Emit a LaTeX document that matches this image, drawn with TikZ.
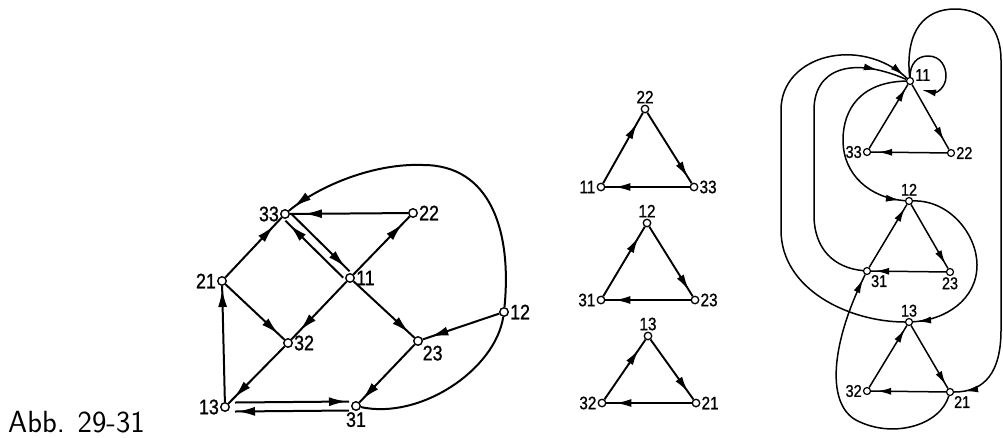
\documentclass[tikz,border=0pt]{standalone}
\usepackage{fontspec}
\newfontfamily\lab[FakeStretch=0.85, FakeBold=1]{Liberation Sans}
\usetikzlibrary{arrows.meta,decorations.markings,calc}
\tikzset{
  vL/.style={circle, draw, fill=white, line width=1.4pt, inner sep=0pt, minimum size=8.5pt},
  vM/.style={circle, draw, fill=white, line width=1.3pt, inner sep=0pt, minimum size=7.5pt},
  vR/.style={circle, draw, fill=white, line width=1.2pt, inner sep=0pt, minimum size=7pt},
  lblL/.style={font=\lab\fontsize{21}{21}\selectfont, inner sep=1pt},
  lblM/.style={font=\lab\fontsize{18}{18}\selectfont, inner sep=1pt},
  lblR/.style={font=\lab\fontsize{17}{17}\selectfont, inner sep=1pt},
  eL/.style={line width=2pt},
  eM/.style={line width=1.9pt},
  eR/.style={line width=1.5pt},
  arrL/.style={postaction={decorate}, decoration={markings, mark=at position #1 with {\arrow{Latex[length=18pt,width=9pt]}}}},
  arrL/.default=-8pt,
  arrM/.style={postaction={decorate}, decoration={markings, mark=at position #1 with {\arrow{Latex[length=16pt,width=8pt]}}}},
  arrM/.default=-8pt,
  arrR/.style={postaction={decorate}, decoration={markings, mark=at position #1 with {\arrow{Latex[length=14pt,width=7pt]}}}},
  arrR/.default=-5pt,
  tipR/.style={-{Latex[length=14pt,width=7pt]}},
}
\begin{document}
\begin{tikzpicture}[x=1pt,y=-1pt]
\useasboundingbox (0,0) rectangle (1003,437);

% ---------- left graph ----------
\node[vL, label={[lblL]left:33}] (a33) at (285,214) {};
\node[vL, label={[lblL]right:22}] (a22) at (413,213) {};
\node[vL, label={[lblL]left:21}] (a21) at (222,281) {};
\node[vL, label={[lblL]right:11}] (a11) at (350,278) {};
\node[vL, label={[lblL]right:32}] (a32) at (288,343) {};
\node[vL, label={[lblL]right:12}] (a12) at (504,312) {};
\node[vL, label={[lblL]below right:23}] (a23) at (418,341) {};
\node[vL, label={[lblL]left:13}] (a13) at (225,407) {};
\node[vL, label={[lblL]below:31}] (a31) at (356,406) {};

\draw[eL,arrL=-14pt] (a22) -- (a33);
\draw[eL,arrL=-11pt] (a21) -- (a33);
\draw[eL,arrL=-6pt] ($(a33)+(6.8,0.3)$) -- ($(a11)+(-0.4,-6.7)$);
\draw[eL,arrL=-6pt] ($(a11)+(-6.8,-0.3)$) -- ($(a33)+(0.4,6.7)$);
\draw[eL,arrL=-10pt] (a11) -- (a22);
\draw[eL,arrL=-12pt] (a11) -- (a32);
\draw[eL,arrL=-7pt] (a11) -- (a23);
\draw[eL,arrL=-8pt] (a21) -- (a32);
\draw[eL,arrL=-8pt] (a32) -- (a13);
\draw[eL,arrL=-3pt] (a13) -- (a21);
\draw[eL,arrL=-4pt] (a23) -- (a31);
\draw[eL,arrL=-8pt] (a12) -- (a23);
\draw[eL,arrL=-2pt] ($(a13)+(10,-4.5)$) -- ($(a31)+(-7,-4.5)$);
\draw[eL,arrL=-2pt] ($(a31)+(-7,4.5)$) -- ($(a13)+(10,4.5)$);
\draw[eL] (a31) .. controls (420,420) and (495,370) .. (a12);
\draw[eL,arrL=-6pt] (a12) .. controls (512,230) and (490,165) .. (423,165)
   .. controls (375,163) and (320,185) .. (a33);

% ---------- middle triangles ----------
\node[vM, label={[lblM]above:22}] (m22) at (645,109) {};
\node[vM, label={[lblM]left:11}] (m11) at (601,187) {};
\node[vM, label={[lblM]right:33}] (m33) at (694,187) {};
\node[vM, label={[lblM]above:12}] (m12) at (647,223) {};
\node[vM, label={[lblM]left:31}] (m31) at (601,300) {};
\node[vM, label={[lblM]right:23}] (m23) at (695,300) {};
\node[vM, label={[lblM]above:13}] (m13) at (648,336) {};
\node[vM, label={[lblM]left:32}] (m32) at (602,403) {};
\node[vM, label={[lblM]right:21}] (m21) at (696,403) {};

\draw[eM,arrM=-12pt] (m11) -- (m22);
\draw[eM,arrM=-7pt] (m22) -- (m33);
\draw[eM,arrM=-9pt] (m33) -- (m11);
\draw[eM,arrM=-12pt] (m31) -- (m12);
\draw[eM,arrM=-7pt] (m12) -- (m23);
\draw[eM,arrM=-9pt] (m23) -- (m31);
\draw[eM,arrM=-12pt] (m32) -- (m13);
\draw[eM,arrM=-9pt] (m13) -- (m21);
\draw[eM,arrM=-9pt] (m21) -- (m32);

% ---------- right graph ----------
\node[vR, label={[lblR, anchor=center, label distance=10pt]25:11}] (r11) at (910,81) {};
\node[vR, label={[lblR]left:33}] (r33) at (867,152) {};
\node[vR, label={[lblR]right:22}] (r22) at (951,153) {};
\node[vR, label={[lblR]above:12}] (r12) at (909,201) {};
\node[vR, label={[lblR]below right:31}] (r31) at (867,271) {};
\node[vR, label={[lblR]below:23}] (r23) at (950,272) {};
\node[vR, label={[lblR]above:13}] (r13) at (909,322) {};
\node[vR, label={[lblR]left:32}] (r32) at (867,391) {};
\node[vR, label={[lblR]below right:21}] (r21) at (950,392) {};
\coordinate (lp) at (922,90);

\draw[eR,arrR=-4pt] (r33) -- (r11);
\draw[eR,arrR=-10pt] (r11) -- (r22);
\draw[eR,arrR=-7pt] (r22) -- (r33);
\draw[eR,arrR=-4pt] (r31) -- (r12);
\draw[eR,arrR=-5pt] (r12) -- (r23);
\draw[eR,arrR=-4pt] (r23) -- (r31);
\draw[eR,arrR=-4pt] (r32) -- (r13);
\draw[eR,arrR=-4pt] (r13) -- (r21);
\draw[eR,arrR=-6pt] (r21) -- (r32);

% self loop at 11
\draw[eR,tipR] (r11) .. controls (910,64) and (917,56) .. (928,56)
   .. controls (941,56) and (946,67) .. (946,76)
   .. controls (946,88) and (936,93) .. (lp);
% big loop 11 -> 21
\draw[eR,arrR=-10pt] (r11) .. controls (905,30) and (925,9) .. (955,9)
   .. controls (985,9) and (1001,30) .. (1001,60) -- (1001,330)
   .. controls (1001,372) and (985,392) .. (r21);
% 13 -> 11 (outer)
\draw[eR,arrR=-4pt] (r13) .. controls (850,322) and (781,290) .. (781,230)
   -- (781,110) .. controls (781,55) and (860,35) .. (r11);
% 31 -> 11 (inner)
\draw[eR,arrR=-30pt] (r31) .. controls (835,268) and (814,250) .. (814,215)
   -- (814,110) .. controls (814,70) and (850,55) .. (r11);
% 11 -> 12
\draw[eR,arrR=-5pt] (r11) .. controls (860,82) and (843,110) .. (843,140)
   .. controls (843,175) and (870,198) .. (r12);
% 12 -> 13
\draw[eR,arrR=-4pt] (r12) .. controls (950,200) and (977,235) .. (977,265)
   .. controls (977,300) and (945,320) .. (r13);
% 21 -> 31
\draw[eR,arrR=-5pt] (r21) .. controls (940,425) and (895,438) .. (860,422)
   .. controls (825,408) and (830,345) .. (r31);

% caption
\node[anchor=base west, inner sep=0pt, font=\sffamily\fontsize{30.6}{36}\selectfont] (cap) at (8,432) {Abb. 29-31};
\end{tikzpicture}
\end{document}
